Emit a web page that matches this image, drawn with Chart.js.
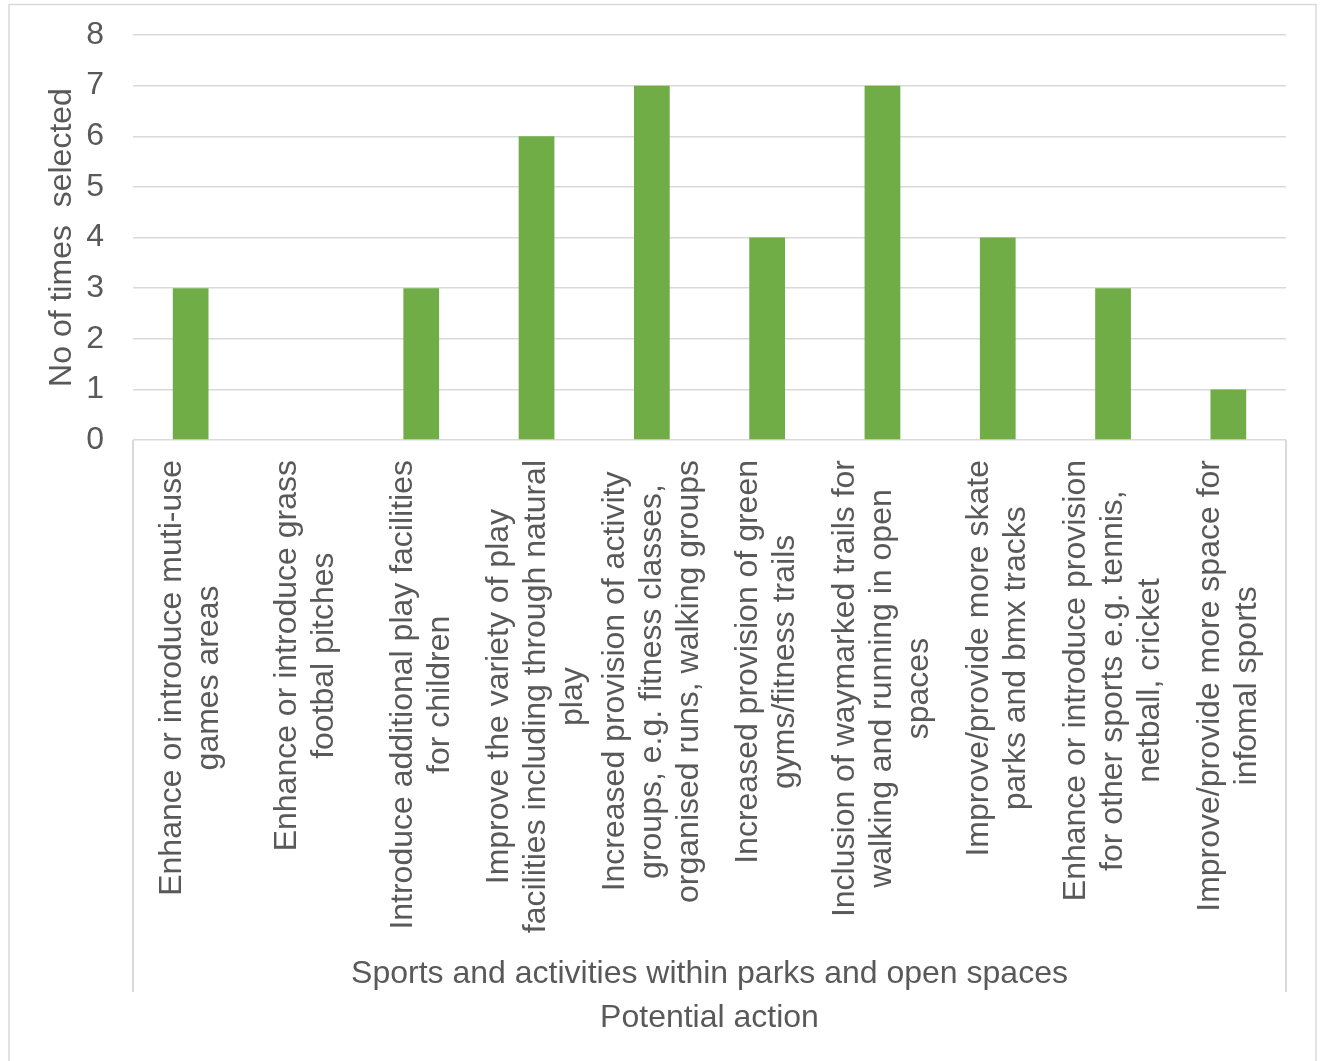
<!DOCTYPE html>
<html>
<head>
<meta charset="utf-8">
<title>Potential action</title>
<script src="https://cdn.jsdelivr.net/npm/chart.js@4/dist/chart.umd.min.js"></script>
<style>
  html, body { margin: 0; padding: 0; background: #ffffff; }
  #actionChart { display: block; }
</style>
</head>
<body>
<canvas id="actionChart" width="1321" height="1061"></canvas>
<script>
// 카테고리 (여러 줄 라벨)
const categories = [
  ['Enhance or introduce muti-use', 'games areas'],
  ['Enhance or introduce grass', 'footbal pitches'],
  ['Introduce additional play facilities', 'for children'],
  ['Improve the variety of play', 'facilities including through natural', 'play'],
  ['Increased provision of activity', 'groups, e.g. fitness classes,', 'organised runs, walking groups'],
  ['Increased provision of green', 'gyms/fitness trails'],
  ['Inclusion of waymarked trails for', 'walking and running in open', 'spaces'],
  ['Improve/provide more skate', 'parks and bmx tracks'],
  ['Enhance or introduce provision', 'for other sports e.g. tennis,', 'netball, cricket'],
  ['Improve/provide more space for', 'infomal sports']
];

// 선택 횟수
const timesSelected = [3, 0, 3, 6, 7, 4, 7, 4, 3, 1];

// y축 눈금
const yTicks = [0, 1, 2, 3, 4, 5, 6, 7, 8];

const groupLabel = 'Sports and activities within parks and open spaces';
const axisTitle = 'Potential action';
const yTitle = 'No of times  selected';

const FONT = "'Liberation Sans', Arial, sans-serif";
const TEXT_COLOR = '#595959';
const LINE_COLOR = '#d9d9d9';
const BAR_COLOR = '#70ad47';

// 회전된 다중 라벨, 그룹 라벨, 테두리 그리기
const categoryLabelPlugin = {
  id: 'categoryLabels',
  beforeDraw(chart) {
    const ctx = chart.ctx;
    ctx.save();
    ctx.strokeStyle = LINE_COLOR;
    ctx.lineWidth = 1.5;
    ctx.strokeRect(9, 4.5, 1307, 1100);
    ctx.restore();
  },
  afterDraw(chart) {
    const ctx = chart.ctx;
    const xScale = chart.scales.x;
    const area = chart.chartArea;
    const top = area.bottom + 20;
    const lineGap = 37;

    ctx.save();
    ctx.font = '32px ' + FONT;
    ctx.fillStyle = TEXT_COLOR;
    ctx.textAlign = 'center';
    ctx.textBaseline = 'middle';

    categories.forEach((lines, i) => {
      const x = xScale.getPixelForTick(i);
      const w = Math.max(...lines.map(l => ctx.measureText(l).width));
      ctx.save();
      ctx.translate(x, top);
      ctx.rotate(-Math.PI / 2);
      lines.forEach((line, j) => {
        ctx.fillText(line, -w / 2, (j - (lines.length - 1) / 2) * lineGap);
      });
      ctx.restore();
    });

    // 그룹 구분선
    ctx.strokeStyle = LINE_COLOR;
    ctx.lineWidth = 2;
    ctx.beginPath();
    ctx.moveTo(area.left, area.bottom);
    ctx.lineTo(area.left, 992);
    ctx.moveTo(area.right, area.bottom);
    ctx.lineTo(area.right, 992);
    ctx.stroke();

    // 그룹 라벨 / 축 제목
    const cx = (area.left + area.right) / 2;
    ctx.textBaseline = 'alphabetic';
    ctx.fillText(groupLabel, cx, 983);
    ctx.fillText(axisTitle, cx, 1027);
    ctx.restore();
  }
};

new Chart(document.getElementById('actionChart'), {
  type: 'bar',
  data: {
    labels: categories,
    datasets: [{
      label: axisTitle,
      data: timesSelected,
      backgroundColor: BAR_COLOR,
      borderWidth: 0,
      barPercentage: 0.31,
      categoryPercentage: 1
    }]
  },
  options: {
    responsive: false,
    animation: false,
    devicePixelRatio: 1,
    layout: {
      padding: { top: 35, right: 35, left: 0, bottom: 0 }
    },
    plugins: {
      legend: { display: false },
      tooltip: { enabled: false }
    },
    scales: {
      x: {
        grid: { display: false },
        border: { display: false },
        ticks: { display: false },
        afterFit(scale) {
          scale.height = 621;
          scale.paddingLeft = 0;
          scale.paddingRight = 0;
        }
      },
      y: {
        min: yTicks[0],
        max: yTicks[yTicks.length - 1],
        afterBuildTicks(scale) {
          scale.ticks = yTicks.map(v => ({ value: v }));
        },
        afterFit(scale) {
          scale.width = 133;
          scale.paddingTop = 0;
          scale.paddingBottom = 0;
        },
        grid: {
          color: LINE_COLOR,
          lineWidth: 1.5,
          drawTicks: false
        },
        border: { display: false },
        ticks: {
          color: TEXT_COLOR,
          padding: 29,
          font: { family: FONT, size: 32 }
        },
        title: {
          display: true,
          text: yTitle,
          color: TEXT_COLOR,
          padding: { top: 43, bottom: 0 },
          font: { family: FONT, size: 32 }
        }
      }
    }
  },
  plugins: [categoryLabelPlugin]
});
</script>
</body>
</html>
